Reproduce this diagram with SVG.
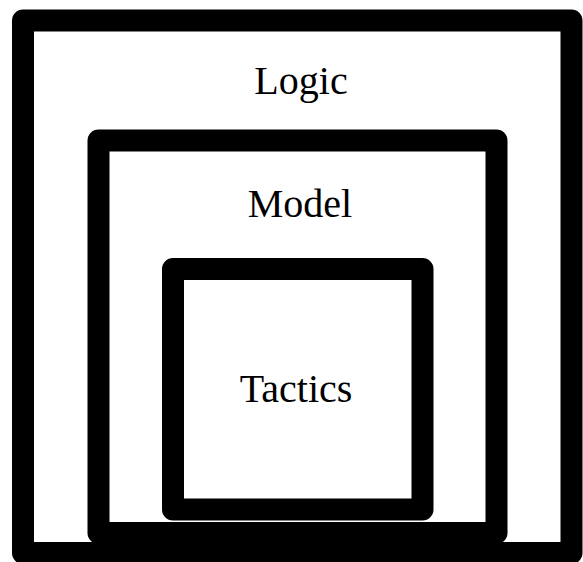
<svg xmlns="http://www.w3.org/2000/svg" width="583" height="562" viewBox="0 0 583 562">
<style>
.box{fill:none;stroke:#000;stroke-width:22;stroke-linejoin:round}
.lbl{font-family:"Liberation Serif","Times New Roman",serif;font-size:40px;fill:#000;text-anchor:middle}
</style>
<rect width="583" height="562" fill="#fff"/>
<g id="logic">
<rect class="box" x="23" y="20.5" width="548.5" height="532.5"/>
<text class="lbl" x="301" y="94">Logic</text>
</g>
<g id="model">
<rect class="box" x="98.5" y="140.5" width="398" height="392.5"/>
<text class="lbl" x="300" y="217">Model</text>
</g>
<g id="tactics">
<rect class="box" x="173" y="269" width="249.5" height="240.5"/>
<text class="lbl" x="296" y="402">Tactics</text>
</g>
</svg>
